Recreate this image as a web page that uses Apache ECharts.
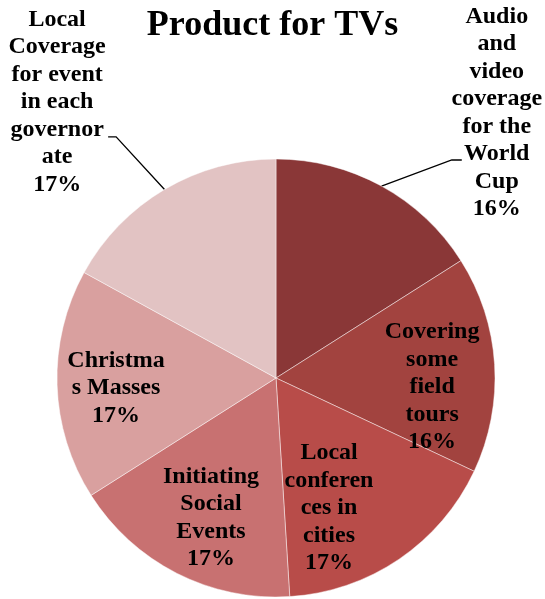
<!DOCTYPE html>
<html>
<head>
<meta charset="utf-8">
<title>Product for TVs</title>
<script src="https://cdn.jsdelivr.net/npm/echarts@6/dist/echarts.min.js"></script>
<style>
  html, body { margin: 0; padding: 0; background: #ffffff; }
  #chart { width: 545px; height: 599px; }
</style>
</head>
<body>
<div id="chart"></div>
<script>
// Activity categories (label text as wrapped in the slices)
const categories = [
  'Audio\nand\nvideo\ncoverage\nfor the\nWorld\nCup',
  'Covering\nsome\nfield\ntours',
  'Local\nconferen\nces in\ncities',
  'Initiating\nSocial\nEvents',
  'Christma\ns Masses',
  'Local\nCoverage\nfor event\nin each\ngovernor\nate'
];
// Share of each activity, percent
const shares = [16, 16, 17, 17, 17, 17];
const sliceColors = ['#8a3737', '#a2433f', '#b84c49', '#c87171', '#d9a09f', '#e2c3c3'];

const CX = 276, CY = 378, R = 219;
const total = shares.reduce((a, b) => a + b, 0);

// Label placement: [angle clockwise from 12 o'clock (deg), distance / radius]
const labelSpots = [
  [39.8, 1.575], [93.3, 0.714], [157.8, 0.641],
  [204.9, 0.705], [266.4, 0.732], [321.6, 1.609]
];
// Leader line end, relative to the label centre (outside labels only)
const leaderEnds = { 0: [-35, 47, -10], 5: [51, 35, 8] };

function polar(angleDeg, dist) {
  const a = angleDeg * Math.PI / 180;
  return [CX + dist * Math.sin(a), CY - dist * Math.cos(a)];
}
function midAngle(i) {
  let before = 0;
  for (let k = 0; k < i; k++) before += shares[k];
  return (before + shares[i] / 2) / total * 360;
}

const chart = echarts.init(document.getElementById('chart'), null, { renderer: 'canvas' });

const labelFont = {
  fontFamily: 'Liberation Serif, Times New Roman, serif',
  fontWeight: 'bold',
  fontSize: 24,
  lineHeight: 27.5,
  color: '#000000',
  align: 'center'
};

chart.setOption({
  animation: false,
  backgroundColor: '#ffffff',
  title: {
    text: 'Product for TVs',
    left: 'center',
    top: 3,
    textStyle: {
      fontFamily: 'Liberation Serif, Times New Roman, serif',
      fontWeight: 'bold',
      fontSize: 36,
      color: '#000000'
    }
  },
  series: [{
    type: 'pie',
    center: [CX, CY],
    radius: R,
    startAngle: 90,
    clockwise: true,
    avoidLabelOverlap: false,
    itemStyle: { borderColor: 'rgba(255,255,255,0.45)', borderWidth: 1 },
    label: Object.assign({
      formatter: p => categories[p.dataIndex] + '\n' + shares[p.dataIndex] + '%'
    }, labelFont),
    labelLine: { show: false, lineStyle: { color: '#000000', width: 1.3 } },
    labelLayout: function (params) {
      const i = params.dataIndex;
      const spot = labelSpots[i];
      const pos = polar(spot[0], spot[1] * R);
      const out = { x: pos[0], y: pos[1], align: 'center', verticalAlign: 'middle' };
      if (leaderEnds[i]) {
        const e = leaderEnds[i];
        const end = [pos[0] + e[0], pos[1] + e[1]];
        const elbow = [end[0] + e[2], end[1]];
        out.labelLinePoints = [polar(midAngle(i), R), elbow, end];
      }
      return out;
    },
    data: shares.map((v, i) => {
      const outside = i === 0 || i === shares.length - 1;
      return {
        name: categories[i].replace(/\n/g, ' '),
        value: v,
        itemStyle: { color: sliceColors[i] },
        label: { position: outside ? 'outside' : 'inside' },
        labelLine: { show: outside, length: 20, length2: 10 }
      };
    })
  }]
});
</script>
</body>
</html>
